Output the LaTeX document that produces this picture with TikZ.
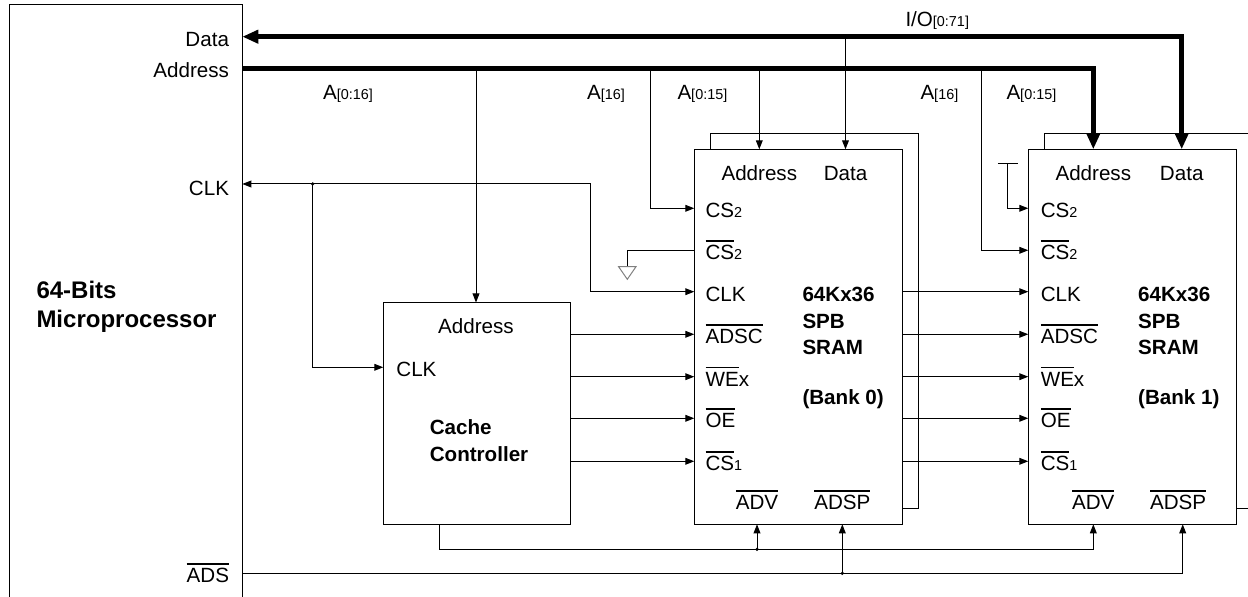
\documentclass[tikz,border=0pt]{standalone}
\usepackage{fontspec}
\setmainfont{Liberation Sans}
\usetikzlibrary{arrows.meta, positioning, calc}
\newcommand{\pinbar}[1]{\vbox{\hrule height 0.8pt\kern 1.8pt\hbox{#1}}}
\newcommand{\pinsub}[1]{{\fontsize{7.2}{8}\selectfont #1}}
\tikzset{chip/.style={draw, inner sep=0pt, outer sep=0pt, anchor=north west}}
\tikzset{pinlbl/.style={inner sep=0pt, font=\fontsize{10.3}{12}\selectfont, text height=9.5pt, text depth=0pt}}
\tikzset{chipname/.style={inner sep=0pt, anchor=north west, align=left, font=\fontsize{10.3}{13.3}\selectfont\bfseries}}
\tikzset{sig/.style={-{Triangle[length=4.5pt, width=3.4pt]}}}
\tikzset{sig2/.style={{Triangle[length=4.5pt, width=3.4pt]}-{Triangle[length=4.5pt, width=3.4pt]}}}
\tikzset{bus/.style={line width=2.5pt, -{Triangle[length=8pt, width=6.5pt]}}}
\tikzset{bus2/.style={line width=2.5pt, {Triangle[length=8pt, width=6.5pt]}-{Triangle[length=8pt, width=6.5pt]}}}

\begin{document}
\begin{tikzpicture}[x=0.5pt, y=-0.5pt, line width=0.5pt]
        \useasboundingbox (0,0) rectangle (1248,597);

        % blocks
        \node[chip, minimum width=116.5pt, minimum height=300pt] (Mp) at (9.3,5) {};
        \node[chip, minimum width=93.6pt, minimum height=110.9pt] (Cc) at (383.3,302.5) {};
        \node[chip, minimum width=104pt, minimum height=187.5pt] (Sa) at (694.3,149.3) {};
        \node[chip, minimum width=104.2pt, minimum height=187.5pt] (Sb) at (1028.3,149.3) {};

        % stacked outline behind each bank
        \draw ($(Sa.north west)+(16,0)$) |- ($(Sa.north east)+(16,-16)$) |- ($(Sa.south east)+(0,-16)$);
        \draw ($(Sb.north west)+(16,0)$) |- ($(Sb.north east)+(16,-16)$) |- ($(Sb.south east)+(0,-16)$);

        \node[chipname, font=\fontsize{12}{14.5}\selectfont\bfseries] (MpName) at (36,281) {64-Bits\\Microprocessor};
        \node[chipname] (CcName) at (429.3,419) {Cache\\Controller};
        \node[chipname] (SaName) at (802,286.7) {64Kx36\\SPB\\SRAM\\[11.5pt](Bank 0)};
        \node[chipname] (SbName) at (1137.7,286.7) {64Kx36\\SPB\\SRAM\\[11.5pt](Bank 1)};

        % microprocessor pins
        \coordinate (MpData) at (242.3,36.7);
        \coordinate (MpAddr) at (242.3,68.3);
        \coordinate (MpCLK) at (242.3,184);
        \coordinate (MpADS) at (242.3,573.3);
        \node[pinlbl, left=6.4pt of MpData] (MpDataL) {Data};
        \node[pinlbl, left=6.4pt of MpAddr] (MpAddrL) {Address};
        \node[pinlbl, left=6.4pt of MpCLK, yshift=-1.2pt] (MpCLKL) {CLK};
        \node[pinlbl, left=6.4pt of MpADS] (MpADSL) {\pinbar{ADS}};

        % cache controller pins
        \coordinate (CcAddr) at (476,302.5);
        \coordinate (CcCLK) at (383.3,367.3);
        \coordinate (CcADV) at (439.3,524.3);
        \node[pinlbl, below=6pt of CcAddr] (CcAddrL) {Address};
        \node[pinlbl, right=6.3pt of CcCLK] (CcCLKL) {CLK};

        % bank 0 pins
        \coordinate (SaAddr) at (759.3,149.3);
        \coordinate (SaData) at (845.5,149.3);
        \coordinate (SaCS2) at (694.3,208.3);
        \coordinate (SaCSn2) at (694.3,250.3);
        \coordinate (SaCLK) at (694.3,291.7);
        \coordinate (SaADSC) at (694.3,334.3);
        \coordinate (SaWE) at (694.3,376.7);
        \coordinate (SaOE) at (694.3,418.3);
        \coordinate (SaCS1) at (694.3,461.3);
        \coordinate (SaADV) at (757,524.3);
        \coordinate (SaADSP) at (842.3,524.3);
        \node[pinlbl, below=5.8pt of SaAddr] (SaAddrL) {Address};
        \node[pinlbl, below=5.8pt of SaData] (SaDataL) {Data};
        \node[pinlbl, right=5.4pt of SaCS2] (SaCS2L) {CS\pinsub{2}};
        \node[pinlbl, right=5.4pt of SaCSn2] (SaCSn2L) {\pinbar{CS}\pinsub{2}};
        \node[pinlbl, right=5.4pt of SaCLK] (SaCLKL) {CLK};
        \node[pinlbl, right=5.4pt of SaADSC] (SaADSCL) {\pinbar{ADSC}};
        \node[pinlbl, right=5.4pt of SaWE] (SaWEL) {\pinbar{WE}x};
        \node[pinlbl, right=5.4pt of SaOE] (SaOEL) {\pinbar{OE}};
        \node[pinlbl, right=5.4pt of SaCS1] (SaCS1L) {\pinbar{CS}\pinsub{1}};
        \node[pinlbl, above=7pt of SaADV] (SaADVL) {\pinbar{ADV}};
        \node[pinlbl, above=7pt of SaADSP] (SaADSPL) {\pinbar{ADSP}};

        % bank 1 pins
        \coordinate (SbAddr) at (1093.3,149.3);
        \coordinate (SbData) at (1181.7,149.3);
        \coordinate (SbCS2) at (1028.3,208.3);
        \coordinate (SbCSn2) at (1028.3,250.3);
        \coordinate (SbCLK) at (1028.3,291.7);
        \coordinate (SbADSC) at (1028.3,334.3);
        \coordinate (SbWE) at (1028.3,376.7);
        \coordinate (SbOE) at (1028.3,418.3);
        \coordinate (SbCS1) at (1028.3,461.3);
        \coordinate (SbADV) at (1093.3,524.3);
        \coordinate (SbADSP) at (1182.7,524.3);
        \node[pinlbl, below=5.8pt of SbAddr] (SbAddrL) {Address};
        \node[pinlbl, below=5.8pt of SbData] (SbDataL) {Data};
        \node[pinlbl, right=6pt of SbCS2] (SbCS2L) {CS\pinsub{2}};
        \node[pinlbl, right=6pt of SbCSn2] (SbCSn2L) {\pinbar{CS}\pinsub{2}};
        \node[pinlbl, right=6pt of SbCLK] (SbCLKL) {CLK};
        \node[pinlbl, right=6pt of SbADSC] (SbADSCL) {\pinbar{ADSC}};
        \node[pinlbl, right=6pt of SbWE] (SbWEL) {\pinbar{WE}x};
        \node[pinlbl, right=6pt of SbOE] (SbOEL) {\pinbar{OE}};
        \node[pinlbl, right=6pt of SbCS1] (SbCS1L) {\pinbar{CS}\pinsub{1}};
        \node[pinlbl, above=7pt of SbADV] (SbADVL) {\pinbar{ADV}};
        \node[pinlbl, above=7pt of SbADSP, xshift=-2.3pt] (SbADSPL) {\pinbar{ADSP}};

        % bus labels
        \node[pinlbl, anchor=base west] (LblIO) at (905,26.7) {I/O\pinsub{[0:71]}};
        \node[pinlbl, anchor=base west] (LblA016) at (322.7,99.3) {A\pinsub{[0:16]}};
        \node[pinlbl, anchor=base west] (LblA16a) at (586.7,100) {A\pinsub{[16]}};
        \node[pinlbl, anchor=base west] (LblA015a) at (677,100) {A\pinsub{[0:15]}};
        \node[pinlbl, anchor=base west] (LblA16b) at (920,100) {A\pinsub{[16]}};
        \node[pinlbl, anchor=base west] (LblA015b) at (1006,100) {A\pinsub{[0:15]}};

        % data and address buses
        \draw [bus2] (MpData) -| (SbData);
        \draw [bus] (MpAddr) -| (SbAddr);
        \draw [sig] (SaData |- MpData) -- (SaData);
        \draw [sig] (SaAddr |- MpAddr) -- (SaAddr);
        \draw [sig] (CcAddr |- MpAddr) -- (CcAddr);

        % chip selects
        \coordinate (SaA16) at (650.7,68.3);
        \coordinate (SbA16) at (981.7,68.3);
        \coordinate (SaGnd) at (627.3,266.7);
        \coordinate (SbVcc) at (1007.5,163.3);
        \draw [sig] (SaA16) |- (SaCS2);
        \draw [sig] (SbA16) |- (SbCSn2);
        \draw (SaCSn2) -| (SaGnd);
        \draw [gray] (SaGnd) +(-8.7,0) -- +(8.7,0) -- +(0,12.6) -- cycle;
        \draw ($(SbVcc)+(-9.7,0)$) -- ($(SbVcc)+(10,0)$);
        \draw [sig] (SbVcc) |- (SbCS2);

        % clock
        \coordinate (ClkBend) at (590,184);
        \coordinate (ClkDot) at (312.7,184);
        \draw [sig2] (MpCLK) -- (ClkBend) |- (SaCLK);
        \draw [sig] (ClkDot) |- (CcCLK);
        \fill (ClkDot) circle (0.9pt);

        % controller to bank 0
        \draw [sig] (Cc.east |- SaADSC) -- (SaADSC);
        \draw [sig] (Cc.east |- SaWE) -- (SaWE);
        \draw [sig] (Cc.east |- SaOE) -- (SaOE);
        \draw [sig] (Cc.east |- SaCS1) -- (SaCS1);

        % bank 0 to bank 1
        \draw [sig] (Sa.east |- SbCLK) -- (SbCLK);
        \draw [sig] (Sa.east |- SbADSC) -- (SbADSC);
        \draw [sig] (Sa.east |- SbWE) -- (SbWE);
        \draw [sig] (Sa.east |- SbOE) -- (SbOE);
        \draw [sig] (Sa.east |- SbCS1) -- (SbCS1);

        % ADV and ADS
        \coordinate (AdvDot) at (757,549.3);
        \coordinate (AdsDot) at (842.3,573.3);
        \draw [sig] (CcADV) |- (AdvDot) -| (SbADV);
        \draw [sig] (AdvDot) -- (SaADV);
        \fill (AdvDot) circle (0.9pt);
        \draw [sig] (MpADS) -| (SbADSP);
        \draw [sig] (AdsDot) -- (SaADSP);
        \fill (AdsDot) circle (0.9pt);
    \end{tikzpicture}
\end{document}
